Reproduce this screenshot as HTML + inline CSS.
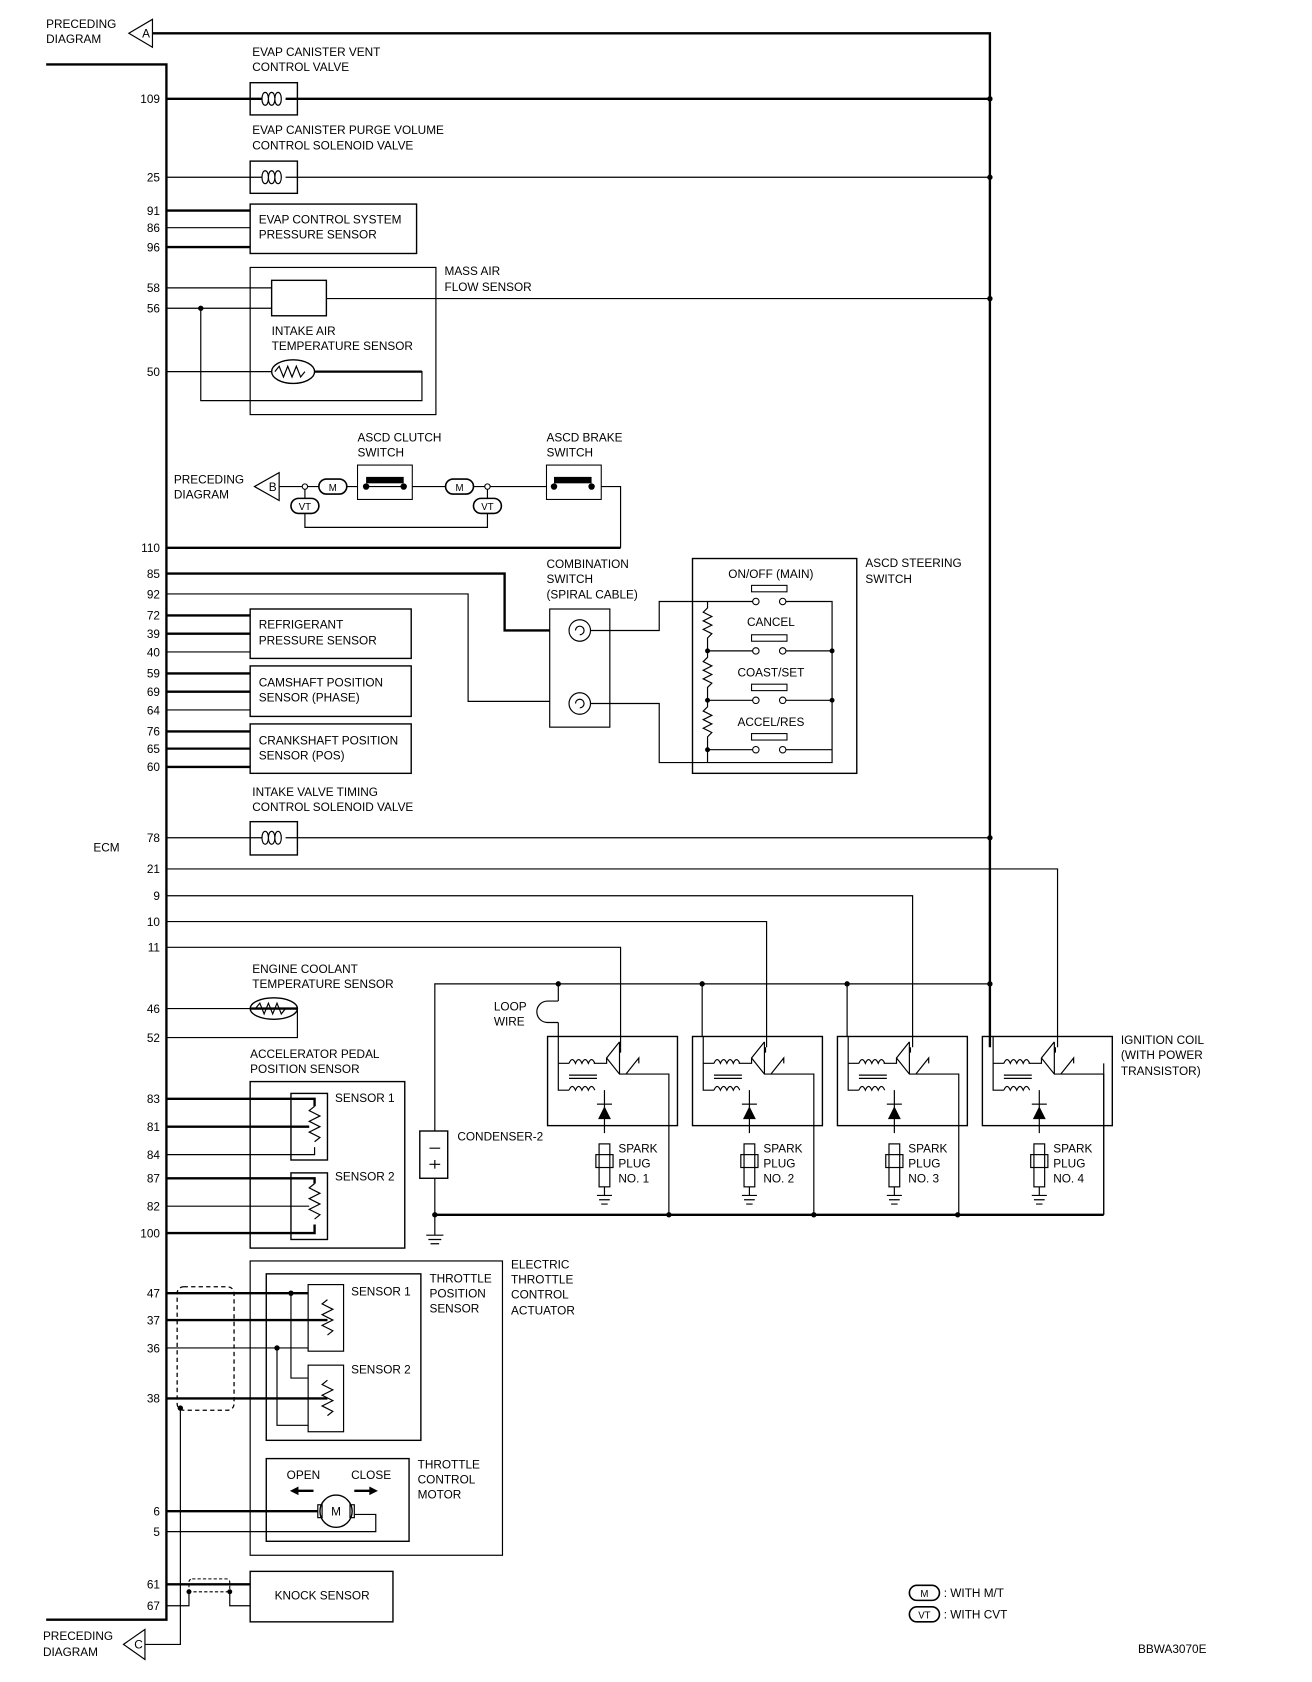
<!DOCTYPE html>
<html><head><meta charset="utf-8"><style>
html,body{margin:0;padding:0;background:#fff}
svg{display:block}
text{font-family:"Liberation Sans Narrow","Liberation Sans",sans-serif;font-size:11px;fill:#000}
.t{stroke:#000;stroke-width:2.2;fill:none}
.n{stroke:#000;stroke-width:1.1;fill:none}
.b{stroke:#000;stroke-width:1.3;fill:none}
.e{text-anchor:end}
.m{text-anchor:middle}
</style></head><body>
<svg width="1312" height="1682" viewBox="0 0 1222 1566" preserveAspectRatio="none" xmlns="http://www.w3.org/2000/svg">
<!-- top connector A -->
<text x="43" y="26">PRECEDING</text><text x="43" y="40">DIAGRAM</text>
<path class="n" d="M120,31 L142,18 L142,44 Z"/><text x="136" y="35" class="m">A</text>
<path class="t" d="M142,31 H922 V975"/>
<!-- ECM -->
<path class="t" d="M43,60 H155 V1508 H43"/>
<text x="87" y="793">ECM</text>
<g fill="#000"><circle cx="922" cy="92" r="2.5"/><circle cx="922" cy="165" r="2.5"/><circle cx="922" cy="278" r="2.5"/><circle cx="922" cy="780" r="2.5"/><circle cx="922" cy="916" r="2.5"/></g>
<!-- pins -->
<g class="e">
<text x="149" y="96">109</text><text x="149" y="169">25</text><text x="149" y="200">91</text><text x="149" y="216">86</text><text x="149" y="234">96</text>
<text x="149" y="272">58</text><text x="149" y="291">56</text><text x="149" y="350">50</text><text x="149" y="514">110</text>
<text x="149" y="538">85</text><text x="149" y="557">92</text><text x="149" y="577">72</text><text x="149" y="594">39</text><text x="149" y="611">40</text>
<text x="149" y="631">59</text><text x="149" y="648">69</text><text x="149" y="665">64</text><text x="149" y="685">76</text><text x="149" y="701">65</text><text x="149" y="718">60</text>
<text x="149" y="784">78</text><text x="149" y="813">21</text><text x="149" y="838">9</text><text x="149" y="862">10</text><text x="149" y="886">11</text>
<text x="149" y="943">46</text><text x="149" y="970">52</text>
<text x="149" y="1027">83</text><text x="149" y="1053">81</text><text x="149" y="1079">84</text><text x="149" y="1101">87</text><text x="149" y="1127">82</text><text x="149" y="1152">100</text>
<text x="149" y="1208">47</text><text x="149" y="1233">37</text><text x="149" y="1259">36</text><text x="149" y="1306">38</text>
<text x="149" y="1411">6</text><text x="149" y="1430">5</text><text x="149" y="1479">61</text><text x="149" y="1499">67</text>
</g>
<!-- EVAP vent -->
<text x="235" y="52">EVAP CANISTER VENT</text><text x="235" y="66">CONTROL VALVE</text>
<rect class="b" x="233" y="77" width="44" height="30"/>
<path class="t" d="M155,92 H244 M266,92 H922"/>
<path class="n" d="M244,92 c0,-8 6,-8 6,0 c0,8 -6,8 -6,0 M250,92 c0,-8 6,-8 6,0 c0,8 -6,8 -6,0 M256,92 c0,-8 6,-8 6,0 c0,8 -6,8 -6,0"/>
<!-- purge -->
<text x="235" y="125">EVAP CANISTER PURGE VOLUME</text><text x="235" y="139">CONTROL SOLENOID VALVE</text>
<rect class="b" x="233" y="150" width="44" height="30"/>
<path class="n" d="M155,165 H244 M266,165 H922"/>
<path class="n" d="M244,165 c0,-8 6,-8 6,0 c0,8 -6,8 -6,0 M250,165 c0,-8 6,-8 6,0 c0,8 -6,8 -6,0 M256,165 c0,-8 6,-8 6,0 c0,8 -6,8 -6,0"/>
<!-- evap pressure -->
<rect class="b" x="233" y="190" width="155" height="46"/>
<path class="t" d="M155,196 H233 M155,230 H233"/><path class="n" d="M155,212 H233"/>
<text x="241" y="208">EVAP CONTROL SYSTEM</text><text x="241" y="222">PRESSURE SENSOR</text>
<!-- MAF -->
<rect class="n" x="233" y="249" width="173" height="137"/>
<text x="414" y="256">MASS AIR</text><text x="414" y="271">FLOW SENSOR</text>
<rect class="b" x="253" y="261" width="51" height="33"/>
<path class="n" d="M155,268 H253 M155,287 H253 M304,278 H922 M187,287 V373 H393 V346 H293 M155,346 H253"/>
<path class="t" d="M293,346 H393"/>
<circle cx="187" cy="287" r="2.5"/>
<ellipse class="b" cx="273" cy="346" rx="20" ry="11"/>
<path class="n" d="M256,346 l4,-5 4,10 4,-10 4,10 4,-10 4,10 4,-5"/>
<text x="253" y="312">INTAKE AIR</text><text x="253" y="326">TEMPERATURE SENSOR</text>
<!-- ASCD -->
<text x="333" y="411">ASCD CLUTCH</text><text x="333" y="425">SWITCH</text>
<text x="509" y="411">ASCD BRAKE</text><text x="509" y="425">SWITCH</text>
<text x="162" y="450">PRECEDING</text><text x="162" y="464">DIAGRAM</text>
<path class="n" d="M237,453 L260,440 L260,466 Z"/><text x="254" y="457" class="m">B</text>
<path class="n" d="M260,453 H578 V510"/>
<path class="t" d="M578,510 H155"/>
<path class="n" d="M284,453 V471 M284,478 V491 H454 V478 M454,453 V464"/>
<circle cx="284" cy="453" r="2.5" fill="#fff" stroke="#000"/><circle cx="454" cy="453" r="2.5" fill="#fff" stroke="#000"/>
<rect x="297" y="446" width="26" height="14" rx="7" fill="#fff" stroke="#000" stroke-width="1.5"/><text x="310" y="457" class="m" style="font-size:9px">M</text>
<rect x="415" y="446" width="26" height="14" rx="7" fill="#fff" stroke="#000" stroke-width="1.5"/><text x="428" y="457" class="m" style="font-size:9px">M</text>
<rect x="271" y="464" width="26" height="14" rx="7" fill="#fff" stroke="#000" stroke-width="1.5"/><text x="284" y="475" class="m" style="font-size:9px">VT</text>
<rect x="441" y="464" width="26" height="14" rx="7" fill="#fff" stroke="#000" stroke-width="1.5"/><text x="454" y="475" class="m" style="font-size:9px">VT</text>
<rect x="333" y="433" width="51" height="32" fill="#fff" stroke="#000"/>
<rect x="341" y="444" width="35" height="6"/><circle cx="341" cy="453" r="3"/><circle cx="376" cy="453" r="3"/>
<path class="n" d="M341,453 H376"/>
<rect x="509" y="433" width="51" height="32" fill="#fff" stroke="#000"/>
<rect x="516" y="444" width="35" height="6"/><circle cx="516" cy="453" r="3"/><circle cx="551" cy="453" r="3"/>
<!-- combination switch -->
<path class="t" d="M155,534 H470 V587 H512"/>
<path class="n" d="M155,553 H436 V653 H512"/>
<text x="509" y="529">COMBINATION</text><text x="509" y="543">SWITCH</text><text x="509" y="557">(SPIRAL CABLE)</text>
<rect class="n" x="512" y="567" width="56" height="110"/>
<circle class="n" cx="540" cy="587" r="10"/><path class="n" d="M540,587 m-4,0 a4,4 0 1 1 4,4"/>
<circle class="n" cx="540" cy="655" r="10"/><path class="n" d="M540,655 m-4,0 a4,4 0 1 1 4,4"/>
<path class="n" d="M550,587 H614 V560 H659 M550,655 H614 V710 H659"/>
<!-- ASCD steering -->
<rect class="b" x="645" y="520" width="153" height="200"/>
<text x="806" y="528">ASCD STEERING</text><text x="806" y="543">SWITCH</text>
<g class="m"><text x="718" y="538">ON/OFF (MAIN)</text><text x="718" y="583">CANCEL</text><text x="718" y="630">COAST/SET</text><text x="718" y="676">ACCEL/RES</text></g>
<g fill="#fff" stroke="#000"><rect x="700" y="545" width="33" height="6"/><rect x="700" y="591" width="33" height="6"/><rect x="700" y="637" width="33" height="6"/><rect x="700" y="683" width="33" height="6"/></g>
<path class="n" d="M659,560 H701 M732,560 H775 V710 H659 M659,606 H701 M732,606 H775 M659,652 H701 M732,652 H775 M659,698 H701 M732,698 H775"/>
<path class="n" d="M659,560 V566 l-4,4 8,4 -8,4 8,4 -8,4 8,4 -4,4 V606 v6 l-4,4 8,4 -8,4 8,4 -8,4 8,4 -4,4 V652 v6 l-4,4 8,4 -8,4 8,4 -8,4 8,4 -4,4 V710"/>
<g fill="#fff" stroke="#000"><circle cx="704" cy="560" r="3"/><circle cx="729" cy="560" r="3"/><circle cx="704" cy="606" r="3"/><circle cx="729" cy="606" r="3"/><circle cx="704" cy="652" r="3"/><circle cx="729" cy="652" r="3"/><circle cx="704" cy="698" r="3"/><circle cx="729" cy="698" r="3"/></g>
<g fill="#000"><circle cx="659" cy="606" r="2.3"/><circle cx="659" cy="652" r="2.3"/><circle cx="659" cy="698" r="2.3"/><circle cx="775" cy="606" r="2.3"/><circle cx="775" cy="652" r="2.3"/></g>
<!-- sensors boxes -->
<rect class="b" x="233" y="567" width="150" height="46"/><text x="241" y="585">REFRIGERANT</text><text x="241" y="600">PRESSURE SENSOR</text>
<rect class="b" x="233" y="620" width="150" height="47"/><text x="241" y="639">CAMSHAFT POSITION</text><text x="241" y="653">SENSOR (PHASE)</text>
<rect class="b" x="233" y="674" width="150" height="46"/><text x="241" y="693">CRANKSHAFT POSITION</text><text x="241" y="707">SENSOR (POS)</text>
<path class="t" d="M155,573 H233 M155,590 H233 M155,627 H233 M155,644 H233 M155,681 H233 M155,697 H233 M155,714 H233"/>
<path class="n" d="M155,607 H233 M155,661 H233"/>
<!-- IVT -->
<text x="235" y="741">INTAKE VALVE TIMING</text><text x="235" y="755">CONTROL SOLENOID VALVE</text>
<rect class="b" x="233" y="765" width="44" height="31"/>
<path class="n" d="M155,780 H244 M266,780 H922"/>
<path class="n" d="M244,780 c0,-8 6,-8 6,0 c0,8 -6,8 -6,0 M250,780 c0,-8 6,-8 6,0 c0,8 -6,8 -6,0 M256,780 c0,-8 6,-8 6,0 c0,8 -6,8 -6,0"/>
<!-- ignition signal lines -->
<path class="n" d="M155,809 H985 V975 M155,834 H850 V975 M155,858 H714 V975 M155,882 H578 V975"/>
<path class="n" d="M405,1053 V916 H922 M520,916 V932 M520,952 V965 M654,916 V965 M789,916 V965"/>
<path class="n" d="M520,932 h-10 a4,4 0 0 0 0,20 h10"/>
<text x="460" y="941">LOOP</text><text x="460" y="955">WIRE</text>
<g fill="#000"><circle cx="520" cy="916" r="2.5"/><circle cx="654" cy="916" r="2.5"/><circle cx="789" cy="916" r="2.5"/></g>
<!-- coils -->
<g id="coil">
<rect class="b" x="510" y="965" width="121" height="83"/>
<path class="n" d="M520,965 V1015 H530 M520,990 H530 M553,990 H565 V985 l12,-15 M577,970 V1000 M565,985 l12,15 H623 V1131 M578,975 V980 M583,1000 l12,-15 V990 M563,1015 V1055"/>
<path class="n" d="M530,990 q3,-7 6,0 q3,-7 6,0 q3,-7 6,0 q3,-7 6,0 M530,1015 q3,-7 6,0 q3,-7 6,0 q3,-7 6,0 q3,-7 6,0 M530,1001 H556 M530,1004 H556"/>
<path d="M557,1042 L569,1042 L563,1030 Z"/><path class="n" d="M556,1028 H570"/>
<rect class="n" x="558" y="1065" width="10" height="40"/><rect class="n" x="555" y="1075" width="16" height="12"/>
<path class="n" d="M563,1105 V1113 M556,1113 H570 M558,1117 H568 M560,1121 H566"/>
</g>
<use href="#coil" x="135"/><use href="#coil" x="270"/><use href="#coil" x="405"/>
<text x="576" y="1073">SPARK</text><text x="576" y="1087">PLUG</text><text x="576" y="1101">NO. 1</text>
<text x="711" y="1073">SPARK</text><text x="711" y="1087">PLUG</text><text x="711" y="1101">NO. 2</text>
<text x="846" y="1073">SPARK</text><text x="846" y="1087">PLUG</text><text x="846" y="1101">NO. 3</text>
<text x="981" y="1073">SPARK</text><text x="981" y="1087">PLUG</text><text x="981" y="1101">NO. 4</text>
<text x="1044" y="972">IGNITION COIL</text><text x="1044" y="986">(WITH POWER</text><text x="1044" y="1001">TRANSISTOR)</text>
<path class="t" d="M405,1131 H1028"/><path class="n" d="M1028,1131 V990"/>
<g fill="#000"><circle cx="405" cy="1131" r="2.5"/><circle cx="623" cy="1131" r="2.5"/><circle cx="758" cy="1131" r="2.5"/><circle cx="892" cy="1131" r="2.5"/></g>
<!-- condenser -->
<rect class="b" x="391" y="1053" width="26" height="44"/>
<path class="n" d="M400,1069 H410 M400,1084 H410 M405,1080 V1088 M405,1097 V1150 M397,1150 H413 M399,1154 H411 M401,1158 H409"/>
<text x="426" y="1062">CONDENSER-2</text>
<!-- ECT -->
<text x="235" y="906">ENGINE COOLANT</text><text x="235" y="920">TEMPERATURE SENSOR</text>
<path class="n" d="M155,939 H233 M277,939 V966 H155"/><path class="t" d="M277,939 H233"/>
<ellipse class="b" cx="255" cy="939" rx="22" ry="10"/>
<path class="n" d="M238,939 l4,-5 4,10 4,-10 4,10 4,-10 4,10 4,-5"/>
<!-- APP -->
<text x="233" y="985">ACCELERATOR PEDAL</text><text x="233" y="999">POSITION SENSOR</text>
<rect class="b" x="233" y="1007" width="144" height="155"/>
<rect class="b" x="271" y="1018" width="34" height="62"/><rect class="b" x="271" y="1092" width="34" height="62"/>
<text x="312" y="1026">SENSOR 1</text><text x="312" y="1099">SENSOR 2</text>
<path class="t" d="M155,1023 H293 V1030 M155,1049 H288 M155,1148 H293 V1140 M155,1097 H293 V1102"/>
<path class="n" d="M155,1075 H293 V1068 M155,1123 H288 M293,1030 l-5,4 10,5 -10,5 10,5 -10,5 10,5 -5,4 M293,1102 l-5,4 10,5 -10,5 10,5 -10,5 10,5 -5,4"/>
<!-- ETC -->
<rect class="n" x="233" y="1174" width="235" height="274"/>
<text x="476" y="1181">ELECTRIC</text><text x="476" y="1195">THROTTLE</text><text x="476" y="1209">CONTROL</text><text x="476" y="1224">ACTUATOR</text>
<rect class="b" x="248" y="1186" width="144" height="155"/>
<text x="400" y="1194">THROTTLE</text><text x="400" y="1208">POSITION</text><text x="400" y="1222">SENSOR</text>
<rect class="n" x="287" y="1196" width="33" height="62"/><rect class="n" x="287" y="1271" width="33" height="62"/>
<text x="327" y="1206">SENSOR 1</text><text x="327" y="1279">SENSOR 2</text>
<path class="t" d="M155,1204 H287 M155,1229 H305 M155,1302 H305"/>
<path class="n" d="M271,1204 V1283 H287 M155,1255 H287 M258,1255 V1327 H287 M305,1210 l-5,4 10,5 -10,5 10,5 -10,5 10,5 -5,4 M305,1285 l-5,4 10,5 -10,5 10,5 -10,5 10,5 -5,4"/>
<g fill="#000"><circle cx="271" cy="1204" r="2.5"/><circle cx="258" cy="1255" r="2.5"/><circle cx="168" cy="1311" r="2.5"/></g>
<rect x="165" y="1198" width="53" height="115" rx="6" fill="none" stroke="#000" stroke-dasharray="4,3" stroke-width="1.2"/>
<path class="n" d="M168,1311 V1531 H135"/>
<rect class="b" x="248" y="1358" width="133" height="77"/>
<text x="267" y="1377">OPEN</text><text x="327" y="1377">CLOSE</text>
<path class="t" d="M277,1388 H292"/><path d="M270,1388 l8,-4 v8z"/>
<path class="t" d="M330,1388 H345"/><path d="M352,1388 l-8,-4 v8z"/>
<text x="389" y="1367">THROTTLE</text><text x="389" y="1381">CONTROL</text><text x="389" y="1395">MOTOR</text>
<path class="t" d="M155,1407 H296"/><path class="n" d="M155,1426 H350 V1410 H330"/>
<circle class="b" cx="313" cy="1407" r="15"/><rect class="n" x="296" y="1401" width="4" height="12"/><rect class="n" x="326" y="1401" width="4" height="12"/>
<text x="313" y="1411" class="m">M</text>
<!-- knock -->
<rect class="b" x="233" y="1463" width="133" height="47"/><text x="300" y="1489" class="m">KNOCK SENSOR</text>
<path class="t" d="M155,1475 H233"/><path class="n" d="M155,1495 H176 V1482 M214,1482 V1495 H233"/>
<rect x="176" y="1470" width="38" height="12" rx="3" fill="none" stroke="#000" stroke-dasharray="3,2"/>
<g fill="#000"><circle cx="176" cy="1482" r="2.3"/><circle cx="214" cy="1482" r="2.3"/></g>
<!-- bottom connector C -->
<text x="40" y="1527">PRECEDING</text><text x="40" y="1542">DIAGRAM</text>
<path class="n" d="M115,1531 L135,1517 L135,1545 Z"/><text x="129" y="1535" class="m">C</text>
<!-- legend -->
<rect x="847" y="1476" width="28" height="14" rx="7" fill="#fff" stroke="#000" stroke-width="1.5"/><text x="861" y="1487" class="m" style="font-size:9px">M</text><text x="879" y="1487">: WITH M/T</text>
<rect x="847" y="1496" width="28" height="14" rx="7" fill="#fff" stroke="#000" stroke-width="1.5"/><text x="861" y="1507" class="m" style="font-size:9px">VT</text><text x="879" y="1507">: WITH CVT</text>
<text x="1060" y="1539">BBWA3070E</text>
</svg>
</body></html>
